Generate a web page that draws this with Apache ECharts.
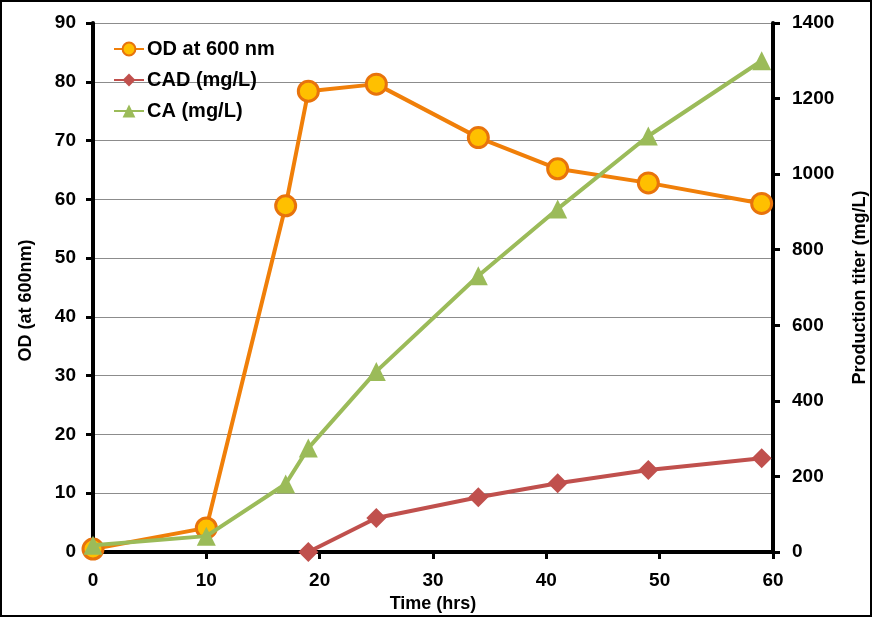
<!DOCTYPE html>
<html><head><meta charset="utf-8">
<script src="https://cdn.jsdelivr.net/npm/echarts@6/dist/echarts.min.js"></script>
<style>html,body{margin:0;padding:0;background:#fff}#c{width:872px;height:617px}</style>
</head><body><div id="c"></div>
<script>
const odTime = [0, 10, 17, 19, 25, 34, 41, 49, 59];
const odValues = [0.5, 4.1, 58.9, 78.4, 79.6, 70.5, 65.2, 62.8, 59.3];
const cadTime = [19, 25, 34, 41, 49, 59];
const cadValues = [0, 90, 145, 182, 217, 248];
const caTime = [0, 10, 17, 19, 25, 34, 41, 49, 59];
const caValues = [18, 42, 180, 275, 478, 731, 908, 1101, 1300];
const leftTicks = [0, 10, 20, 30, 40, 50, 60, 70, 80, 90];
const rightTicks = [0, 200, 400, 600, 800, 1000, 1200, 1400];

const pair = (xs, ys) => xs.map((x, i) => [x, ys[i]]);
const font = 'Liberation Sans, Arial, sans-serif';
const chart = echarts.init(document.getElementById('c'));
const axisCommon = {
  axisLine: {show: true, lineStyle: {color: '#000', width: 4}},
  axisTick: {show: true, inside: false, length: 7, lineStyle: {color: '#000', width: 3}},
  axisLabel: {color: '#000', fontFamily: font, fontWeight: 'bold', fontSize: 19},
  nameTextStyle: {color: '#000', fontFamily: font, fontWeight: 'bold', fontSize: 18}
};
chart.setOption({
  animation: false,
  grid: {left: 93, right: 99, top: 23, bottom: 65, containLabel: false, outerBoundsMode: 'none'},
  graphic: [{type: 'rect', shape: {x: 1, y: 1, width: 870, height: 615}, style: {fill: 'none', stroke: '#000', lineWidth: 2}, z: 100}],
  legend: {
    left: 108, top: 34, orient: 'vertical', itemGap: 11, itemWidth: 30, itemHeight: 16,
    textStyle: {color: '#000', fontFamily: font, fontWeight: 'bold', fontSize: 20, padding: [0, 0, 0, -2]},
    data: ['OD at 600 nm', 'CAD (mg/L)', 'CA (mg/L)']
  },
  xAxis: Object.assign({}, axisCommon, {
    type: 'value', min: 0, max: 60, interval: 10,
    name: 'Time (hrs)', nameLocation: 'middle', nameGap: 39,
    splitLine: {show: false},
    axisLabel: Object.assign({}, axisCommon.axisLabel, {margin: 19})
  }),
  yAxis: [
    Object.assign({}, axisCommon, {
      type: 'value', min: leftTicks[0], max: leftTicks[leftTicks.length - 1], interval: 10, position: 'left',
      name: 'OD (at 600nm)', nameLocation: 'middle', nameGap: 58,
      nameTextStyle: Object.assign({}, axisCommon.nameTextStyle, {padding: [0, 26, 0, 0]}),
      splitLine: {show: true, lineStyle: {color: '#8c8c8c', width: 1}},
      axisLabel: Object.assign({}, axisCommon.axisLabel, {margin: 17})
    }),
    Object.assign({}, axisCommon, {
      type: 'value', min: rightTicks[0], max: rightTicks[rightTicks.length - 1], interval: 200, position: 'right',
      name: 'Production titer (mg/L)', nameLocation: 'middle', nameGap: 78, nameRotate: 90,
      splitLine: {show: false},
      axisLabel: Object.assign({}, axisCommon.axisLabel, {margin: 19, formatter: v => String(v)})
    })
  ],
  series: [
    {name: 'OD at 600 nm', type: 'line', yAxisIndex: 0, data: pair(odTime, odValues),
     symbol: 'circle', symbolSize: 20, z: 5,
     lineStyle: {color: '#F07F09', width: 4},
     itemStyle: {color: '#FFC000', borderColor: '#E8730C', borderWidth: 3}},
    {name: 'CAD (mg/L)', type: 'line', yAxisIndex: 1, data: pair(cadTime, cadValues),
     symbol: 'diamond', symbolSize: 20, z: 4,
     lineStyle: {color: '#C0504D', width: 4},
     itemStyle: {color: '#C0504D'}},
    {name: 'CA (mg/L)', type: 'line', yAxisIndex: 1, data: pair(caTime, caValues),
     symbol: 'triangle', symbolSize: 19, z: 6,
     lineStyle: {color: '#9BBB59', width: 4},
     itemStyle: {color: '#9BBB59'}}
  ]
});
</script></body></html>
